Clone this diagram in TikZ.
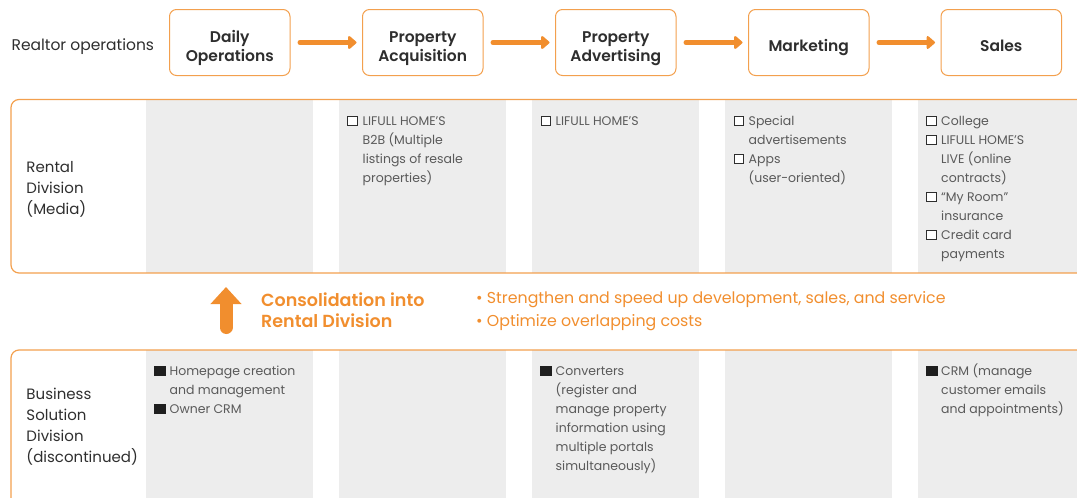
\documentclass[tikz,border=0pt]{standalone}
\usepackage{fontspec}
\setmainfont{Poppins}
\newfontfamily\semib{Poppins SemiBold}
\usetikzlibrary{arrows.meta}
\definecolor{org}{HTML}{F18E2E}
\definecolor{orgline}{HTML}{F3A04E}
\definecolor{colgray}{HTML}{EDEDED}
\definecolor{txt}{HTML}{2E2E2E}
\definecolor{itxt}{HTML}{5A5A5A}
\tikzset{
  hbox/.style={draw=orgline, line width=1pt, rounded corners=7pt, minimum width=120.5pt, minimum height=66pt, inner sep=0pt, fill=white},
  hlab/.style={anchor=base, align=center, inner sep=0pt, text=txt, font=\semib\fontsize{15.5}{19}\selectfont},
  flow/.style={draw=org, line width=5pt, line cap=round, -{Triangle[length=9pt,width=15pt,round]}, shorten <=9.5pt, shorten >=5.5pt},
  grcol/.style={fill=colgray, draw=none},
  frame/.style={draw=orgline, line width=1.2pt, rounded corners=8pt},
  divlab/.style={anchor=base west, align=left, inner sep=0pt, text=txt, font=\fontsize{15}{21}\selectfont},
  itm/.style={anchor=base west, align=left, inner sep=0pt, text=itxt, font=\fontsize{12.5}{19}\selectfont},
  chk/.style={draw=txt, line width=0.8pt, minimum width=9.5pt, minimum height=9pt, inner sep=0pt, anchor=south west, fill=white},
  sq/.style={fill=black!88, draw=none, minimum width=11.5pt, minimum height=10.5pt, inner sep=0pt, anchor=south west},
}
\begin{document}
\begin{tikzpicture}[x=1pt,y=-1pt]
\useasboundingbox (0,0) rectangle (1077,498);
\clip (0,0) rectangle (1077,498);
% header
\node[anchor=base west, inner sep=0pt, text=txt, font=\fontsize{15.5}{19}\selectfont] (realtor) at (11.4,50.6) {Realtor operations};
\node[hbox] (b1) at (229.75,42.5) {};
\node[hbox] (b2) at (422.75,42.5) {};
\node[hbox] (b3) at (615.75,42.5) {};
\node[hbox] (b4) at (808.75,42.5) {};
\node[hbox] (b5) at (1001.25,42.5) {};
\node[hlab] (l1) at (229.75,61) {Daily\\Operations};
\node[hlab] (l2) at (422.75,61) {Property\\Acquisition};
\node[hlab] (l3) at (615.75,61) {Property\\Advertising};
\node[hlab] (l4) at (808.75,51.3) {Marketing};
\node[hlab] (l5) at (1001.25,51.3) {Sales};
\draw[flow] (b1.east) -- (b2.west);
\draw[flow] (b2.east) -- (b3.west);
\draw[flow] (b3.east) -- (b4.west);
\draw[flow] (b4.east) -- (b5.west);
% rental gray columns
\fill[grcol] (146,99.5) rectangle (313,273);
\fill[grcol] (339,99.5) rectangle (505.5,273);
\fill[grcol] (532,99.5) rectangle (699,273);
\fill[grcol] (725,99.5) rectangle (892,273);
\fill[grcol] (918,99.5) rectangle (1080,273);
% business gray columns
\fill[grcol] (146,350) rectangle (313,500);
\fill[grcol] (339,350) rectangle (505.5,500);
\fill[grcol] (532,350) rectangle (699,500);
\fill[grcol] (725,350) rectangle (892,500);
\fill[grcol] (918,350) rectangle (1080,500);
% frames
\draw[frame] (1090,99.5) -- (11,99.5) -- (11,273) -- (1090,273);
\draw[frame] (1090,350) -- (11,350) -- (11,520);
% division labels (base = last line)
\node[divlab] (rental) at (26.3,214.3) {Rental\\Division\\(Media)};
\node[divlab] (business) at (26.3,462.3) {Business\\Solution\\Division\\(discontinued)};
% rental items
\node[chk] (c21) at (347,125.5) {};
\node[itm] (t21) at (362.5,182) {LIFULL HOME’S\\B2B (Multiple\\listings of resale\\properties)};
\node[chk] (c31) at (540.5,125.5) {};
\node[itm] (t31) at (555.5,125) {LIFULL HOME’S};
\node[chk] (c41) at (733.5,125.5) {};
\node[itm] (t41) at (748.5,144) {Special\\advertisements};
\node[chk] (c42) at (733.5,163.5) {};
\node[itm] (t42) at (748.5,182) {Apps\\(user-oriented)};
\node[chk] (c51) at (926,125.5) {};
\node[itm] (t51) at (941,125) {College};
\node[chk] (c52) at (926,144.5) {};
\node[itm] (t52) at (941,182) {LIFULL HOME’S\\LIVE (online\\contracts)};
\node[chk] (c53) at (926,201.5) {};
\node[itm] (t53) at (941,220) {“My Room”\\insurance};
\node[chk] (c54) at (926,239.5) {};
\node[itm] (t54) at (941,258) {Credit card\\payments};
% consolidation
\coordinate (upfrom) at (226,327.5);
\coordinate (upto) at (226,287);
\draw[draw=org, line width=13pt, line cap=round, -{Triangle[length=17pt,width=30pt]}] (upfrom) -- (upto);
\node[anchor=base west, align=left, inner sep=0pt, text=org, font=\semib\fontsize{17.5}{21}\selectfont] (consol) at (261,327.7) {Consolidation into\\Rental Division};
\node[anchor=base west, align=left, inner sep=0pt, text=org, font=\fontsize{15.8}{23}\selectfont] (bullets) at (476,326.4) {• Strengthen and speed up development, sales, and service\\• Optimize overlapping costs};
% business items
\node[sq] (s11) at (154,376.5) {};
\node[itm] (u11) at (169.5,394.5) {Homepage creation\\and management};
\node[sq] (s12) at (154,414.5) {};
\node[itm] (u12) at (169.5,413.5) {Owner CRM};
\node[sq] (s31) at (540,376.5) {};
\node[itm] (u31) at (555.5,470.5) {Converters\\(register and\\manage property\\information using\\multiple portals\\simultaneously)};
\node[sq] (s51) at (926,376.5) {};
\node[itm] (u51) at (941,413.5) {CRM (manage\\customer emails\\and appointments)};
\end{tikzpicture}
\end{document}
